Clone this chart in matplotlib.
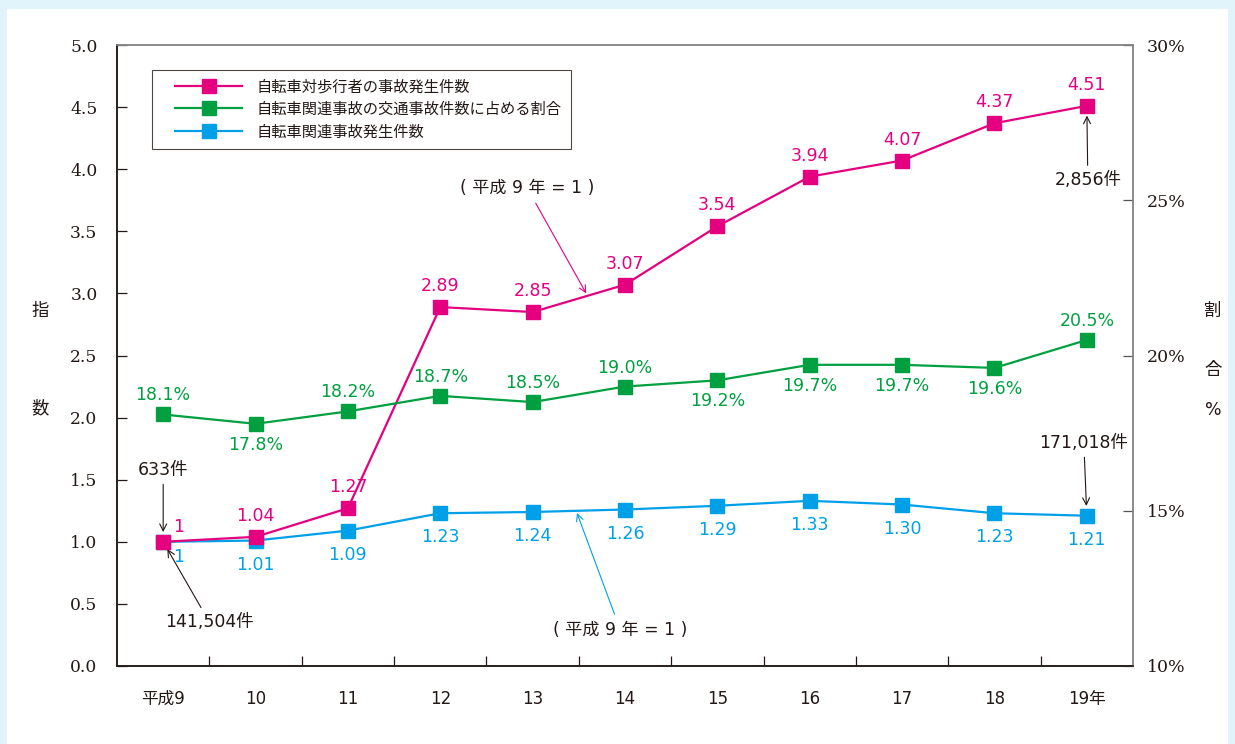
import matplotlib
matplotlib.use("Agg")
import matplotlib.pyplot as plt
from matplotlib.patches import Rectangle
from matplotlib.lines import Line2D
from matplotlib.legend_handler import HandlerBase

plt.rcParams['font.family'] = ['DejaVu Sans', 'Noto Sans CJK JP']

categories = ['平成9', '10', '11', '12', '13', '14', '15', '16', '17', '18', '19年']
pedestrian_index = [1, 1.04, 1.27, 2.89, 2.85, 3.07, 3.54, 3.94, 4.07, 4.37, 4.51]
pedestrian_labels = ['1', '1.04', '1.27', '2.89', '2.85', '3.07', '3.54', '3.94', '4.07', '4.37', '4.51']
share_pct = [18.1, 17.8, 18.2, 18.7, 18.5, 19.0, 19.2, 19.7, 19.7, 19.6, 20.5]
share_above = [True, False, True, True, True, True, False, False, False, False, True]
bicycle_index = [1, 1.01, 1.09, 1.23, 1.24, 1.26, 1.29, 1.33, 1.30, 1.23, 1.21]
bicycle_labels = ['1', '1.01', '1.09', '1.23', '1.24', '1.26', '1.29', '1.33', '1.30', '1.23', '1.21']
left_ticks = [0.0, 0.5, 1.0, 1.5, 2.0, 2.5, 3.0, 3.5, 4.0, 4.5, 5.0]
right_ticks = [10, 15, 20, 25, 30]
legend_labels = ['自転車対歩行者の事故発生件数', '自転車関連事故の交通事故件数に占める割合', '自転車関連事故発生件数']

PINK = '#e4007f'
GREEN = '#00a040'
BLUE = '#00a0e9'
TXT = '#231815'

fig = plt.figure(figsize=(12.35, 7.44), dpi=100)
fig.patch.set_facecolor('#e1f3fb')
fig.add_artist(Rectangle((7/1235, 0), (1228-7)/1235, 735/744, transform=fig.transFigure,
                         facecolor='white', edgecolor='none', zorder=-10))

ax = fig.add_axes([117/1235, 1-666/744, (1133-117)/1235, (666-45)/744])
ax.set_facecolor('none')
ax2 = ax.twinx()
ax2.set_facecolor('none')
x = list(range(len(categories)))

ax.set_xlim(-0.5, len(categories)-0.5)
ax.set_ylim(0, 5)
ax2.set_ylim(10, 30)

ms = 9.5
lw = 1.6
ax.plot(x, bicycle_index, color=BLUE, lw=lw, marker='s', ms=ms, mec=BLUE, zorder=3)
ax.plot(x, pedestrian_index, color=PINK, lw=lw, marker='s', ms=ms, mec=PINK, zorder=4)
ax2.plot(x, share_pct, color=GREEN, lw=lw, marker='s', ms=ms, mec=GREEN, zorder=3)

fs = 12.5
for i, (v, lab) in enumerate(zip(pedestrian_index, pedestrian_labels)):
    off = (15, 15) if i == 0 else (0, 21)
    ax.annotate(lab, (i, v), xytext=off, textcoords='offset pixels', ha='center', va='center',
                color=PINK, fontsize=fs)
for i, (v, lab) in enumerate(zip(bicycle_index, bicycle_labels)):
    off = (15, -15) if i == 0 else (0, -24)
    ax.annotate(lab, (i, v), xytext=off, textcoords='offset pixels', ha='center', va='center',
                color=BLUE, fontsize=fs)
for i, (v, up) in enumerate(zip(share_pct, share_above)):
    off = (0, 19) if up else (0, -21)
    ax2.annotate(f'{v:.1f}%', (i, v), xytext=off, textcoords='offset pixels', ha='center', va='center',
                 color=GREEN, fontsize=fs)

arrow_k = dict(arrowstyle='->', color=TXT, lw=0.8, shrinkA=2, shrinkB=7)
ax.annotate('633件', (0, pedestrian_index[0]), xytext=(0, 72), textcoords='offset pixels',
            ha='center', va='center', color=TXT, fontsize=fs, arrowprops=arrow_k)
ax.annotate('141,504件', (0, bicycle_index[0]), xytext=(46, -80), textcoords='offset pixels',
            ha='center', va='center', color=TXT, fontsize=fs,
            arrowprops=dict(arrowstyle='->', color=TXT, lw=0.8, shrinkA=2, shrinkB=6))
ax.annotate('2,856件', (10, pedestrian_index[10]), xytext=(1, -74), textcoords='offset pixels',
            ha='center', va='center', color=TXT, fontsize=fs, arrowprops=arrow_k)
ax.annotate('171,018件', (10, bicycle_index[10]), xytext=(-3, 73), textcoords='offset pixels',
            ha='center', va='center', color=TXT, fontsize=fs, arrowprops=arrow_k)

ax.annotate('( 平成 9 年 = 1 )', (4.58, 3.0), xytext=(3.94, 3.85), textcoords='data',
            ha='center', va='center', color=TXT, fontsize=12.3,
            arrowprops=dict(arrowstyle='->', color=PINK, lw=0.8, shrinkA=3, shrinkB=0))
ax.annotate('( 平成 9 年 = 1 )', (4.48, 1.232), xytext=(4.95, 0.29), textcoords='data',
            ha='center', va='center', color=TXT, fontsize=12.3,
            arrowprops=dict(arrowstyle='->', color=BLUE, lw=0.8, shrinkA=3, shrinkB=0))

# axes styling
ax.set_xticks(x)
ax.set_xticklabels(categories)
ax.set_xticks([i + 0.5 for i in x[:-1]], minor=True)
ax.tick_params(axis='x', which='major', length=0, pad=17, labelsize=12, labelcolor=TXT)
ax.tick_params(axis='x', which='minor', direction='in', length=7, color=TXT, width=0.9)
ax.set_yticks(left_ticks)
ax.set_yticklabels([f'{t:.1f}' for t in left_ticks], fontfamily='DejaVu Serif')
ax.tick_params(axis='y', direction='in', length=7, pad=14, labelsize=12.3, labelcolor=TXT, color=TXT, width=0.9)
ax2.set_yticks(right_ticks)
ax2.set_yticklabels([f'{t}%' for t in right_ticks], fontfamily='DejaVu Serif')
ax2.tick_params(axis='y', direction='in', length=7, pad=10, labelsize=12.5, labelcolor=TXT, color='#555555', width=0.9)

for a in (ax, ax2):
    a.spines['left'].set_color(TXT)
    a.spines['bottom'].set_color(TXT)
    a.spines['top'].set_color('#888888')
    a.spines['right'].set_color('#888888')
    for s in a.spines.values():
        s.set_linewidth(1.1)

fig.text(40/1235, 1-311/744, '指', ha='center', va='center', fontsize=12.5, color=TXT)
fig.text(40/1235, 1-408/744, '数', ha='center', va='center', fontsize=12.5, color=TXT)
fig.text(1213/1235, 1-311/744, '割', ha='center', va='center', fontsize=12.5, color=TXT)
fig.text(1213/1235, 1-370/744, '合', ha='center', va='center', fontsize=12.5, color=TXT)
fig.text(1213/1235, 1-410/744, '%', ha='center', va='center', fontsize=12.5, color=TXT)


class OffsetLineHandler(HandlerBase):
    """Line with a square marker, drawn in the right part of the handle box."""
    def __init__(self, start_frac, **kw):
        super().__init__(**kw)
        self.start_frac = start_frac

    def create_artists(self, legend, orig_handle, xdescent, ydescent, width, height, fontsize, trans):
        y = height / 2 - ydescent
        x0 = -xdescent + width * self.start_frac
        x1 = -xdescent + width
        c = orig_handle.get_color()
        ln = Line2D([x0, x1], [y, y], color=c, lw=orig_handle.get_linewidth(), transform=trans)
        mk = Line2D([(x0 + x1) / 2], [y], color=c, marker='s', ms=orig_handle.get_markersize(),
                    mec=c, ls='none', transform=trans)
        return [ln, mk]


leg_fs = 11
handles = [Line2D([], [], color=c, lw=lw, marker='s', ms=ms, mec=c) for c in (PINK, GREEN, BLUE)]
leg = ax2.legend(handles, legend_labels, loc='upper left',
                 bbox_to_anchor=((152-117)/1016, (666-70)/621), borderaxespad=0,
                 fontsize=leg_fs, handlelength=5.3, handletextpad=0.95, labelspacing=0.5,
                 frameon=True, fancybox=False, edgecolor=TXT, borderpad=0.6,
                 handler_map={Line2D: OffsetLineHandler(0.17)})
leg.get_frame().set_linewidth(0.8)
for t in leg.get_texts():
    t.set_color(TXT)

fig.savefig('out.png', dpi=100, facecolor=fig.get_facecolor())
